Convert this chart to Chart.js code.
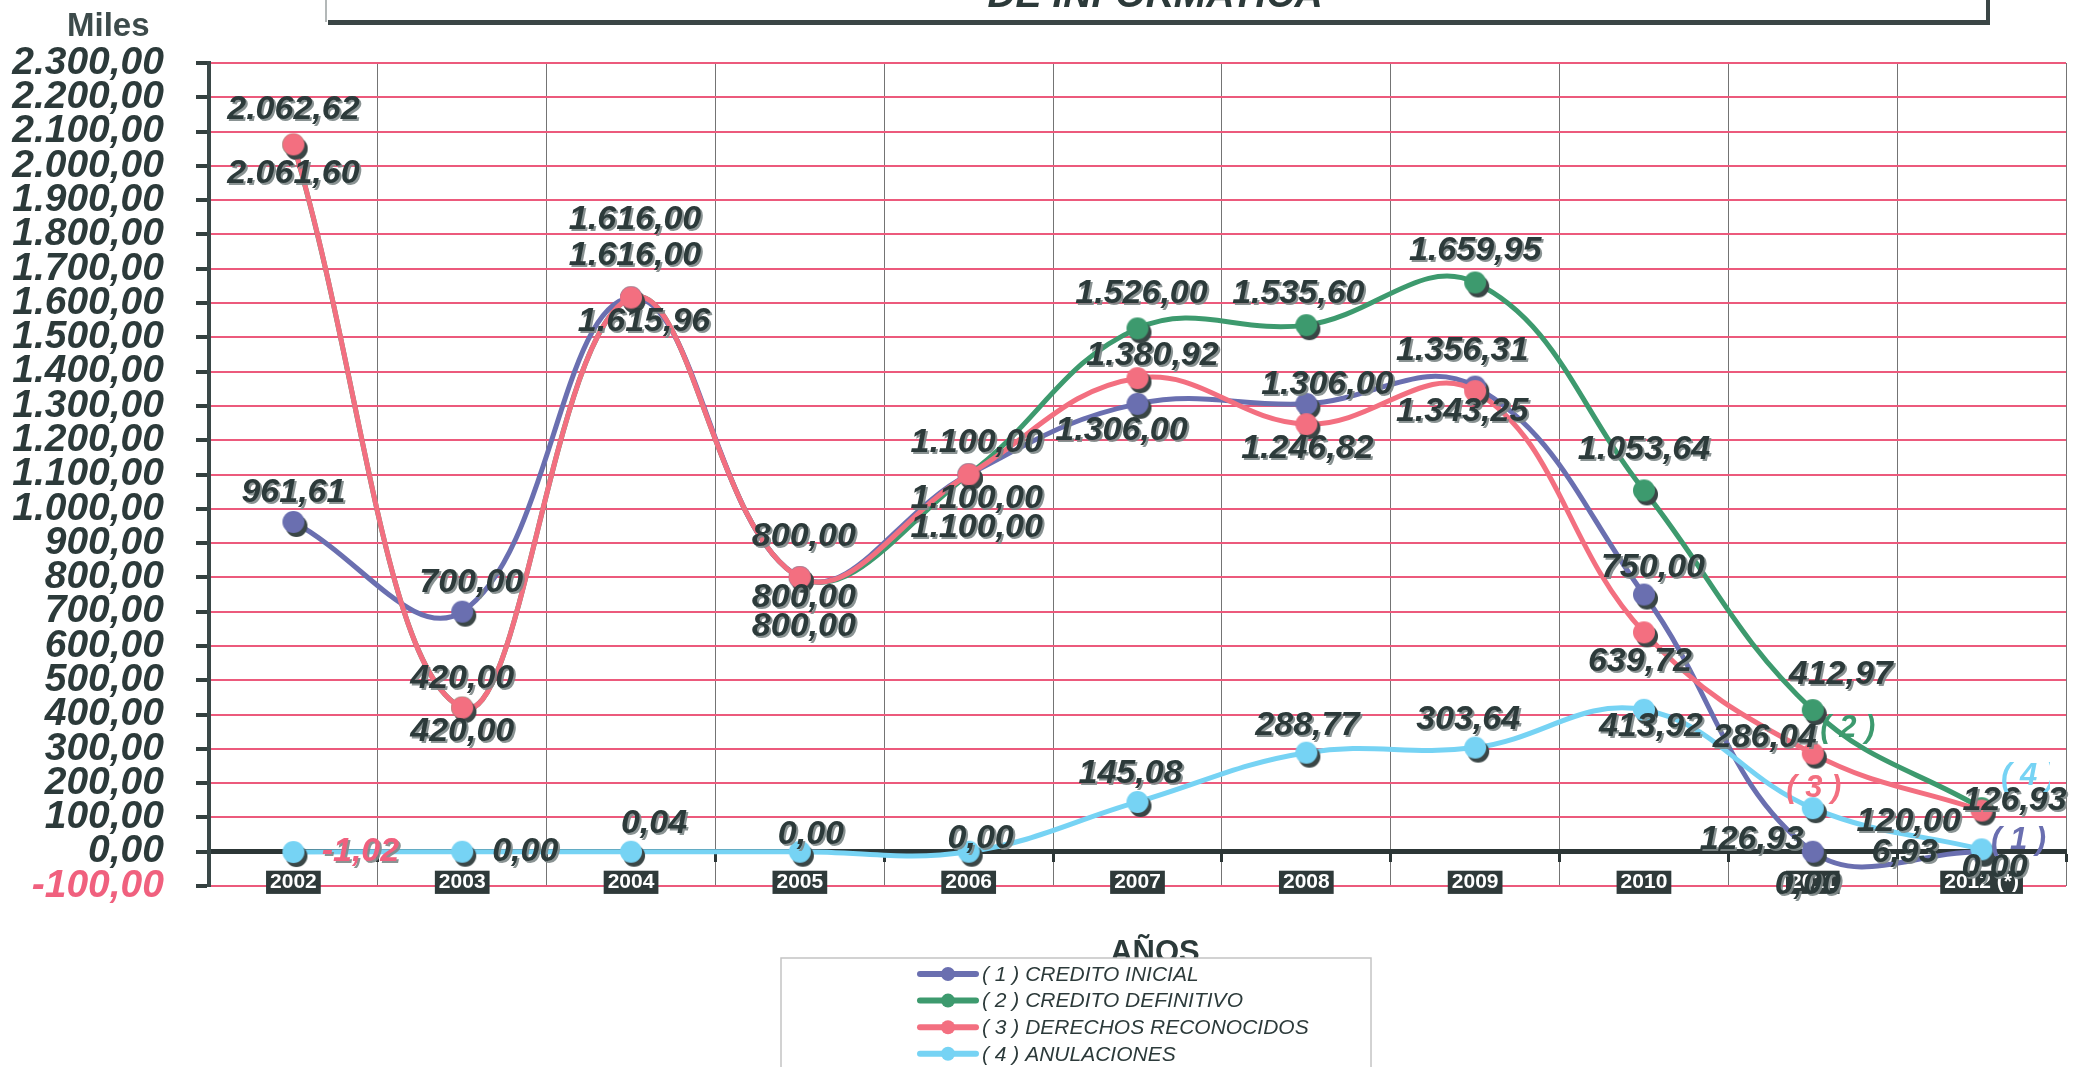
<!DOCTYPE html>
<html>
<head>
<meta charset="utf-8">
<script src="https://cdn.jsdelivr.net/npm/chart.js@4.4.0/dist/chart.umd.min.js"></script>
<style>
  html, body { margin: 0; padding: 0; background: #fff; }
  #wrap { width: 2087px; height: 1067px; position: relative; }
</style>
</head>
<body>
<div id="wrap"><canvas id="chart"></canvas></div>
<script>
// datos (miles)
const years = ['2002', '2003', '2004', '2005', '2006', '2007', '2008', '2009', '2010', '2011', '2012 (*)'];
const creditoInicial = [961.61, 700.00, 1615.96, 800.00, 1100.00, 1306.00, 1306.00, 1356.31, 750.00, 0.00, 0.00];
const creditoDefinitivo = [2061.60, 420.00, 1616.00, 800.00, 1100.00, 1526.00, 1535.60, 1659.95, 1053.64, 412.97, 126.93];
const derechosReconocidos = [2062.62, 420.00, 1616.00, 800.00, 1100.00, 1380.92, 1246.82, 1343.25, 639.72, 286.04, 120.00];
const anulaciones = [-1.02, 0.00, 0.04, 0.00, 0.00, 145.08, 288.77, 303.64, 413.92, 126.93, 6.93];
const seriesNames = ['( 1 ) CREDITO INICIAL', '( 2 ) CREDITO DEFINITIVO', '( 3 ) DERECHOS RECONOCIDOS', '( 4 ) ANULACIONES'];
const yMin = -100, yMax = 2300, yStep = 100;

const colors = ['#6a6fb0', '#3d9a6e', '#f36f80', '#76d3f4'];
const darkText = '#2c3a3a';
const pinkText = '#f0607e';
const font = '"Liberation Sans", Arial, sans-serif';

// where each value label sits relative to its point (px)
const labelOffsets = [
  [[0,-29],[9,-29],[13,24],[4,49],[8,53],[-16,27],[21,-19],[-13,-36],[9,-27],[-5,33],[13,16]],
  [[0,29],[0,24],[4,-42],[4,20],[8,24],[4,-35],[-8,-32],[0,-32],[0,-41],[28,-35],[33,-8]],
  [[0,-35],[0,-29],[4,-78],[4,-41],[8,-32],[15,-23],[1,24],[-13,21],[-4,29],[-48,-16],[-73,11]],
  [[67,0],[63,0],[23,-28],[11,-17],[12,-13],[-7,-28],[1,-27],[-7,-28],[7,17],[-61,31],[-77,3]]
];
const seriesTags = [
  {text: '( 1 )', ds: 0, idx: 10, off: [37, -11]},
  {text: '( 2 )', ds: 1, idx: 9, off: [35, 18]},
  {text: '( 3 )', ds: 2, idx: 9, off: [1, 35]},
  {text: '( 4 )', ds: 3, idx: 10, off: [47, -73]}
];

function fmt(v) {
  const neg = v < 0;
  let [i, d] = Math.abs(v).toFixed(2).split('.');
  i = i.replace(/\B(?=(\d{3})+(?!\d))/g, '.');
  return (neg ? '-' : '') + i + ',' + d;
}

// round marker with a dark drop shadow
function marker(color, r) {
  const c = document.createElement('canvas');
  const s = 2 * (r + 5);
  c.width = s; c.height = s;
  const g = c.getContext('2d');
  g.fillStyle = '#3a4646';
  g.beginPath(); g.arc(s / 2 + 3, s / 2 + 4, r, 0, Math.PI * 2); g.fill();
  g.fillStyle = color;
  g.beginPath(); g.arc(s / 2, s / 2, r, 0, Math.PI * 2); g.fill();
  return c;
}

const frame = {
  id: 'frame',
  beforeDraw(chart) {
    const ctx = chart.ctx;
    ctx.save();
    ctx.fillStyle = '#fff';
    ctx.fillRect(0, 0, chart.width, chart.height);
    // title box, mostly off the top
    ctx.strokeStyle = '#9aa0a0'; ctx.lineWidth = 1.5;
    ctx.beginPath(); ctx.moveTo(326, 0); ctx.lineTo(326, 22); ctx.stroke();
    ctx.fillStyle = '#3b4646';
    ctx.fillRect(328, 20, 1662, 5);
    ctx.fillRect(1986, 0, 4, 25);
    ctx.fillStyle = darkText;
    ctx.font = 'italic bold 39px ' + font;
    ctx.textAlign = 'center'; ctx.textBaseline = 'alphabetic';
    ctx.fillText('DE INFORMATICA', 1155, 7);
    ctx.textAlign = 'left';
    ctx.font = 'bold 33px ' + font;
    ctx.fillStyle = '#3d4b4b';
    ctx.fillText('Miles', 67, 36);
    ctx.restore();
  },
  afterDraw(chart) {
    const ctx = chart.ctx;
    ctx.save();
    ctx.fillStyle = darkText;
    ctx.font = 'bold 31px ' + font;
    ctx.textAlign = 'center';
    ctx.fillText('AÑOS', 1155, 962);
    // legend
    ctx.fillStyle = '#fff';
    ctx.fillRect(781, 958, 590, 130);
    ctx.strokeStyle = '#c4c4c4'; ctx.lineWidth = 1.5;
    ctx.strokeRect(781, 958, 590, 130);
    ctx.textAlign = 'left'; ctx.textBaseline = 'middle';
    ctx.font = 'italic 21px ' + font;
    seriesNames.forEach((name, i) => {
      const y = 974 + i * 26.6;
      ctx.strokeStyle = colors[i]; ctx.lineWidth = 6; ctx.lineCap = 'round';
      ctx.beginPath(); ctx.moveTo(920, y); ctx.lineTo(976, y); ctx.stroke();
      ctx.fillStyle = colors[i];
      ctx.beginPath(); ctx.arc(948, y, 7, 0, Math.PI * 2); ctx.fill();
      ctx.fillStyle = darkText;
      ctx.fillText(name, 982, y + 1);
    });
    ctx.restore();
  }
};

const valueLabels = {
  id: 'valueLabels',
  afterDatasetsDraw(chart) {
    const ctx = chart.ctx;
    ctx.save();
    ctx.textAlign = 'center'; ctx.textBaseline = 'middle';
    ctx.font = 'italic bold 34px ' + font;
    ctx.shadowColor = 'rgba(125,135,135,0.9)';
    ctx.shadowOffsetX = 2; ctx.shadowOffsetY = 2;
    chart.data.datasets.forEach((ds, i) => {
      chart.getDatasetMeta(i).data.forEach((pt, j) => {
        const v = ds.data[j];
        const off = labelOffsets[i][j];
        ctx.fillStyle = v < 0 ? pinkText : darkText;
        ctx.fillText(fmt(v), pt.x + off[0], pt.y + off[1]);
      });
    });
    // series tags; the last one is cut at the right like in the original
    ctx.shadowColor = 'transparent';
    ctx.beginPath(); ctx.rect(0, 0, 2050, chart.height); ctx.clip();
    ctx.font = 'italic bold 31px ' + font;
    seriesTags.forEach(t => {
      const pt = chart.getDatasetMeta(t.ds).data[t.idx];
      ctx.fillStyle = colors[t.ds];
      ctx.fillText(t.text, pt.x + t.off[0], pt.y + t.off[1]);
    });
    ctx.restore();
  }
};

function series(label, data, i, order) {
  return {
    label: label,
    data: data,
    borderColor: colors[i],
    backgroundColor: colors[i],
    borderWidth: 5,
    tension: 0.4,
    pointStyle: marker(colors[i], 11),
    pointRadius: 11,
    order: order
  };
}

new Chart(document.getElementById('chart'), {
  type: 'line',
  data: {
    labels: years,
    datasets: [
      series(seriesNames[0], creditoInicial, 0, 2),
      series(seriesNames[1], creditoDefinitivo, 1, 3),
      series(seriesNames[2], derechosReconocidos, 2, 0),
      series(seriesNames[3], anulaciones, 3, 1)
    ]
  },
  options: {
    responsive: true,
    maintainAspectRatio: false,
    animation: false,
    layout: { padding: { top: 63, bottom: 181, right: 21, left: 0 } },
    plugins: { legend: { display: false }, tooltip: { enabled: false } },
    scales: {
      x: {
        position: { y: 0 },
        offset: true,
        grid: { offset: true, color: 'rgba(70,70,70,0.75)', lineWidth: 1, tickLength: 8, tickColor: '#2c3636', tickWidth: 3 },
        border: { color: '#2c3636', width: 5 },
        ticks: {
          color: '#fff',
          font: { family: font, weight: 'bold', size: 21 },
          padding: 10,
          showLabelBackdrop: true,
          backdropColor: '#2f3a3a',
          backdropPadding: { top: -1, bottom: -1, left: 4, right: 4 }
        }
      },
      y: {
        min: yMin,
        max: yMax,
        afterFit(scale) { scale.width = 209; },
        grid: { color: '#ec5a7c', lineWidth: 2, tickLength: 13, tickColor: '#34403f', tickWidth: 4 },
        border: { color: '#3a4848', width: 4 },
        ticks: {
          stepSize: yStep,
          autoSkip: false,
          padding: 32,
          color: c => c.tick.value < 0 ? pinkText : darkText,
          font: { family: font, style: 'italic', weight: 'bold', size: 39 },
          callback: v => fmt(v)
        }
      }
    }
  },
  plugins: [frame, valueLabels]
});
</script>
</body>
</html>
